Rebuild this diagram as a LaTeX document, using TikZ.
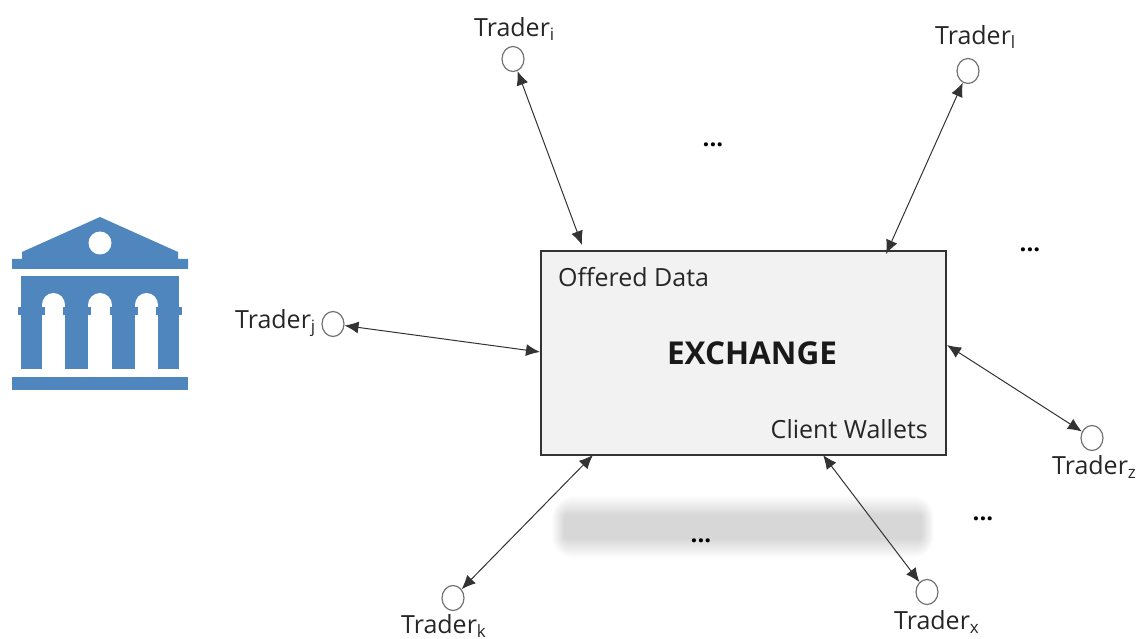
\documentclass[tikz,border=0pt]{standalone}
\usepackage{fontspec}
\setmainfont{Open Sans}
\usetikzlibrary{arrows.meta,shapes.geometric}
\definecolor{bankblue}{HTML}{4F86BD}
\tikzset{
  trader/.style={draw=black!55,fill=white,line width=1.2pt,ellipse,minimum width=22pt,minimum height=25pt,inner sep=0pt},
  link/.style={draw=black!80,line width=1pt,{Latex[length=14pt,width=12pt]}-{Latex[length=14pt,width=12pt]}},
  lab/.style={font=\fontsize{25}{27}\selectfont,text=black!85,inner sep=0pt},
  dotsl/.style={font=\bfseries\fontsize{24}{26}\selectfont,text=black,inner sep=0pt},
}
\newcommand{\trd}[1]{Trader{\fontsize{17}{18}\selectfont\raisebox{-4pt}{#1}}}
\begin{document}
\begin{tikzpicture}[x=1pt,y=-1pt]
\useasboundingbox (0,0) rectangle (1136,639);
\clip (0,0) rectangle (1136,639);
% blurred band
\foreach \g in {0,...,19}{
  \fill[black,opacity=0.0095,rounded corners={(22-\g)*1pt}]
    ({552+0.65*\g},{496+\g}) rectangle ({934-0.65*\g},{558-\g});
}
% bank icon
\fill[bankblue] (100,217) -- (178,252) -- (178,259) -- (188,259) -- (188,269) -- (12,269) -- (12,259) -- (22,259) -- (22,252) -- cycle;
\fill[white] (100,243) circle[radius=11.5];
\fill[bankblue] (21,276) rectangle (179,369);
\fill[bankblue] (18,307) rectangle (182,315);
\foreach \xa/\xb in {42/65,88/112,135/158}{
  \pgfmathsetmacro{\xm}{(\xa+\xb)/2}
  \pgfmathsetmacro{\rr}{(\xb-\xa)/2}
  \fill[white] (\xa,369) rectangle (\xb,305);
  \fill[white] (\xm,305) ellipse[x radius=\rr,y radius=12];
  \fill[bankblue] (\xa,307) rectangle ({\xa+2.5},315);
  \fill[bankblue] ({\xb-2.5},307) rectangle (\xb,315);
}
\fill[bankblue] (12,377) rectangle (188,390);
% exchange box
\node[draw=black!80,fill=black!5,line width=2pt,minimum width=405pt,minimum height=203pt,inner sep=0pt] (exch) at (743,353) {};
\node[lab,anchor=base west] (offered) at (558,287) {Offered Data};
\node[lab,anchor=base east] (wallets) at (928,438) {Client Wallets};
\node[font=\bfseries\fontsize{31.5}{34}\selectfont,text=black!90,inner sep=0pt] (title) at (752,353) {EXCHANGE};
% traders
\node[trader] (ti) at (513,59) {};
\node[trader] (tl) at (968,71) {};
\node[trader] (tj) at (333,324) {};
\node[trader] (tz) at (1092,438) {};
\node[trader] (tk) at (453,598) {};
\node[trader] (tx) at (927,592) {};
\node[lab,anchor=base west] (li) at (474,37) {\trd{i}};
\node[lab,anchor=base west] (ll) at (935,45) {\trd{l}};
\node[lab,anchor=base west] (lj) at (235,329) {\trd{j}};
\node[lab,anchor=base west] (lz) at (1052,474) {\trd{z}};
\node[lab,anchor=base west] (lk) at (401,633) {\trd{k}};
\node[lab,anchor=base west] (lx) at (894,629) {\trd{x}};
% connector ends on the box
\coordinate (ei) at (582,245);
\coordinate (el) at (886,254);
\coordinate (ej) at (540,352);
\coordinate (ez) at (947,345);
\coordinate (ek) at (593,455);
\coordinate (ex) at (823,455);
\draw[link] (ti) -- (ei);
\draw[link] (tl) -- (el);
\draw[link] (tj) -- (ej);
\draw[link] (tz) -- (ez);
\draw[link] (tk) -- (ek);
\draw[link] (tx) -- (ex);
% ellipses
\node[dotsl] (d1) at (713,145) {...};
\node[dotsl] (d2) at (1030,250) {...};
\node[dotsl] (d3) at (983,519) {...};
\node[dotsl] (d4) at (701,541) {...};
\end{tikzpicture}
\end{document}
